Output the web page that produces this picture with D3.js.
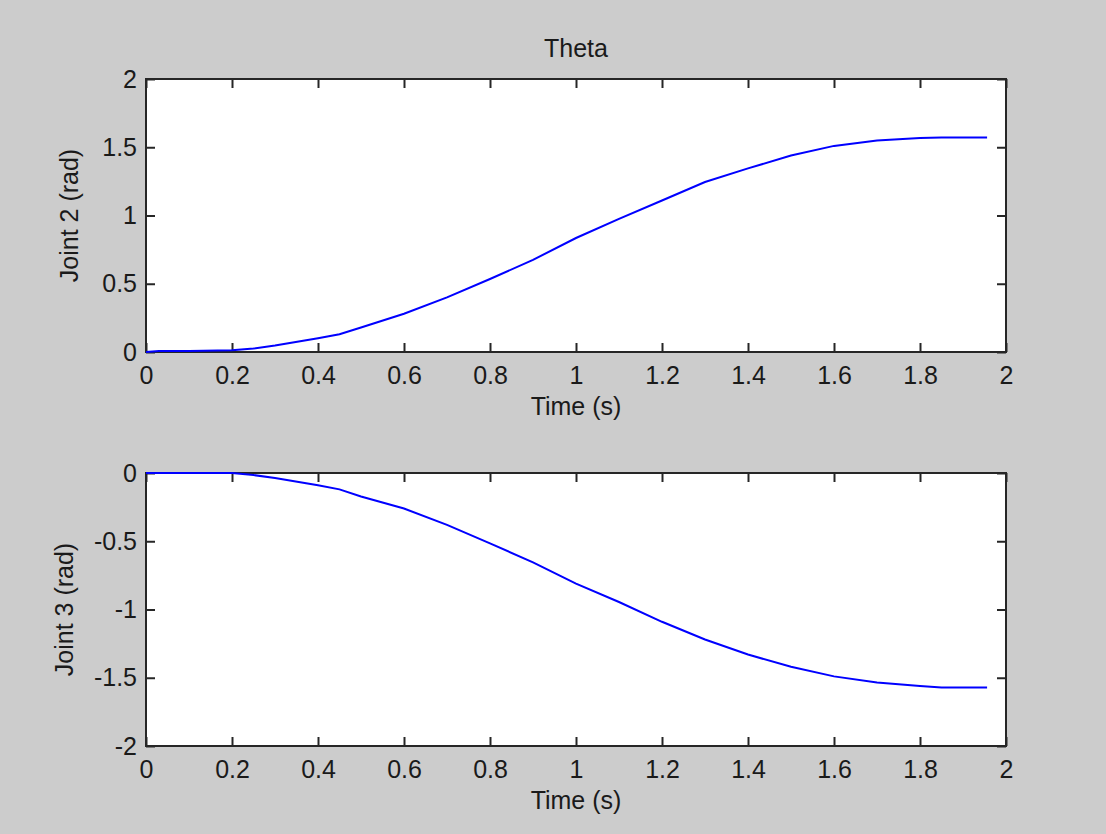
<!DOCTYPE html>
<html>
<head>
<meta charset="utf-8">
<script src="https://cdn.jsdelivr.net/npm/d3@7"></script>
<style>
  html, body { margin: 0; padding: 0; background: #cccccc; }
  svg { display: block; }
  text { font-family: "Liberation Sans", Arial, Helvetica, sans-serif; fill: #1a1a1a; }
</style>
</head>
<body>
<svg id="fig" width="1106" height="834"></svg>
<script>
// Sample times (s) of the joint trajectory
const time = [0, 0.03, 0.1, 0.2, 0.25, 0.3, 0.4, 0.45, 0.5, 0.6, 0.7, 0.8, 0.9, 1.0, 1.1, 1.2, 1.3, 1.4, 1.5, 1.6, 1.7, 1.8, 1.85, 1.956];

// Joint angles (rad) at those times
const joint2 = [0, 0.008, 0.008, 0.012, 0.025, 0.047, 0.10, 0.13, 0.18, 0.28, 0.40, 0.535, 0.675, 0.835, 0.975, 1.11, 1.245, 1.345, 1.44, 1.51, 1.55, 1.568, 1.571, 1.571];
const joint3 = [0, 0, 0, 0, -0.015, -0.037, -0.09, -0.12, -0.172, -0.26, -0.38, -0.515, -0.655, -0.81, -0.945, -1.09, -1.22, -1.33, -1.42, -1.49, -1.535, -1.56, -1.571, -1.571];

// Tick values
const xTicks = [0, 0.2, 0.4, 0.6, 0.8, 1, 1.2, 1.4, 1.6, 1.8, 2];
const yTicks2 = [0, 0.5, 1, 1.5, 2];
const yTicks3 = [-2, -1.5, -1, -0.5, 0];

const svg = d3.select("#fig");
const FONT = 25;
const TICK = 9;
const AXIS_COLOR = "#262626";

const left = 146, right = 1006;
const x = d3.scaleLinear().domain([0, 2]).range([left, right]);

// plain number labels with an ASCII hyphen for negatives
const fmt = d => String(d);

function panel(top, bottom, yDomain, yTicks, values, yLabel, yLabelX) {
  const y = d3.scaleLinear().domain(yDomain).range([bottom, top]);
  const g = svg.append("g");

  g.append("rect")
    .attr("x", left).attr("y", top)
    .attr("width", right - left).attr("height", bottom - top)
    .attr("fill", "#ffffff");

  // bottom axis with labels
  const ax = g.append("g").attr("transform", `translate(0,${bottom})`)
    .call(d3.axisBottom(x).tickValues(xTicks).tickFormat(fmt).tickSizeInner(-TICK).tickSizeOuter(0).tickPadding(14));
  // top axis, ticks only
  const axTop = g.append("g").attr("transform", `translate(0,${top})`)
    .call(d3.axisTop(x).tickValues(xTicks).tickFormat("").tickSizeInner(-TICK).tickSizeOuter(0));
  // left axis with labels
  const ay = g.append("g").attr("transform", `translate(${left},0)`)
    .call(d3.axisLeft(y).tickValues(yTicks).tickFormat(fmt).tickSizeInner(-TICK).tickSizeOuter(0).tickPadding(9));
  // right axis, ticks only
  const ayR = g.append("g").attr("transform", `translate(${right},0)`)
    .call(d3.axisRight(y).tickValues(yTicks).tickFormat("").tickSizeInner(-TICK).tickSizeOuter(0));

  [ax, axTop, ay, ayR].forEach(a => {
    a.select(".domain").remove();
    a.selectAll(".tick line").attr("stroke", AXIS_COLOR).attr("stroke-width", 2);
    a.selectAll(".tick text").attr("font-size", FONT).attr("fill", "#1a1a1a")
      .attr("font-family", "\"Liberation Sans\", Arial, Helvetica, sans-serif");
  });

  // axes frame
  g.append("rect")
    .attr("x", left).attr("y", top)
    .attr("width", right - left).attr("height", bottom - top)
    .attr("fill", "none").attr("stroke", AXIS_COLOR).attr("stroke-width", 2);

  // data line, drawn over the frame
  const pts = time.map((t, i) => [t, values[i]]);
  g.append("path")
    .datum(pts)
    .attr("fill", "none")
    .attr("stroke", "#0000ff")
    .attr("stroke-width", 2)
    .attr("d", d3.line().x(d => x(d[0])).y(d => y(d[1])));

  // x label
  g.append("text")
    .attr("x", (left + right) / 2).attr("y", bottom + 63)
    .attr("text-anchor", "middle").attr("font-size", FONT)
    .text("Time (s)");

  // y label
  g.append("text")
    .attr("transform", `translate(${yLabelX},${(top + bottom) / 2}) rotate(-90)`)
    .attr("text-anchor", "middle").attr("font-size", FONT)
    .text(yLabel);

  return g;
}

panel(79, 352, [0, 2], yTicks2, joint2, "Joint 2 (rad)", 78);
panel(473, 746, [-2, 0], yTicks3, joint3, "Joint 3 (rad)", 73);

// figure title
svg.append("text")
  .attr("x", (left + right) / 2).attr("y", 57)
  .attr("text-anchor", "middle").attr("font-size", FONT)
  .text("Theta");
</script>
</body>
</html>
